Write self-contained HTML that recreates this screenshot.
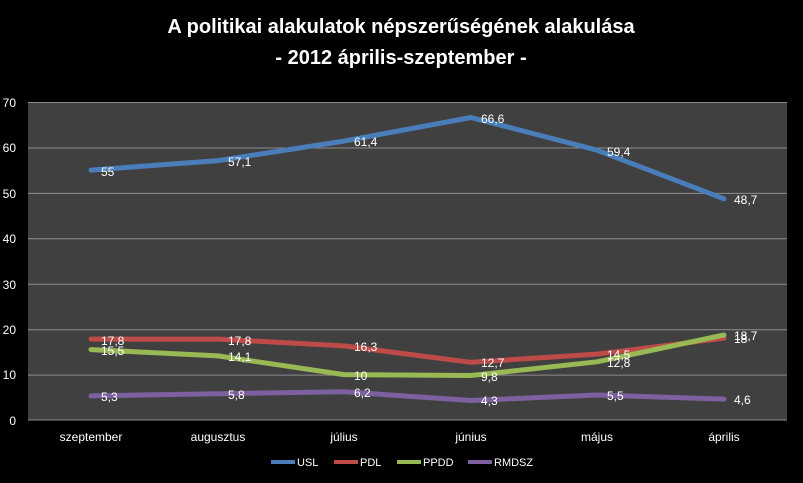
<!DOCTYPE html>
<html><head><meta charset="utf-8"><style>
html,body{margin:0;padding:0;background:#000;}
svg{display:block;font-family:"Liberation Sans","DejaVu Sans",sans-serif;}
</style></head><body>
<svg width="803" height="483" viewBox="0 0 803 483" xmlns="http://www.w3.org/2000/svg">
<rect width="803" height="483" fill="#000"/>
<text x="401" y="33" fill="#fff" font-size="20" font-weight="bold" text-anchor="middle">A politikai alakulatok népszerűségének alakulása</text>
<text x="401" y="64" fill="#fff" font-size="20" font-weight="bold" text-anchor="middle">- 2012 április-szeptember -</text>
<rect x="28" y="102" width="759" height="318" fill="#404040"/>
<g stroke="#8c8c8c" stroke-width="1">
<line x1="28" x2="787" y1="102.5" y2="102.5"/>
<line x1="28" x2="787" y1="148" y2="148"/>
<line x1="28" x2="787" y1="193.4" y2="193.4"/>
<line x1="28" x2="787" y1="238.8" y2="238.8"/>
<line x1="28" x2="787" y1="284.3" y2="284.3"/>
<line x1="28" x2="787" y1="329.7" y2="329.7"/>
<line x1="28" x2="787" y1="375.1" y2="375.1"/>
<line x1="28" x2="787" y1="420" y2="420"/>
</g>
<g fill="#fff" font-size="12" text-anchor="end">
<text x="16" y="107">70</text><text x="16" y="152">60</text><text x="16" y="198">50</text><text x="16" y="243">40</text>
<text x="16" y="289">30</text><text x="16" y="334">20</text><text x="16" y="379">10</text><text x="16" y="425">0</text>
</g>
<g fill="#fff" font-size="12" text-anchor="middle">
<text x="91" y="441">szeptember</text><text x="218" y="441">augusztus</text><text x="344" y="441">július</text>
<text x="471" y="441">június</text><text x="597" y="441">május</text><text x="724" y="441">április</text>
</g>
<g fill="none" stroke-width="5" stroke-linecap="round" stroke-linejoin="round">
<polyline stroke="#4a7ebb" points="91,170.1 218,160.6 344,141.1 471,117.5 597,150.2 724,198.8"/>
<polyline stroke="#be4b48" points="91,339.1 218,339.1 344,345.9 471,362.3 597,354.1 724,338.2"/>
<polyline stroke="#98b954" points="91,349.6 218,355.9 344,374.6 471,375.5 597,361.8 724,335"/>
<polyline stroke="#7d60a0" points="91,395.9 218,393.7 344,391.8 471,400.5 597,395 724,399.1"/>
</g>
<g fill="#fff" font-size="12">
<text x="101" y="176">55</text><text x="228" y="166">57,1</text><text x="354" y="146">61,4</text><text x="481" y="123">66,6</text><text x="607" y="156">59,4</text><text x="734" y="204">48,7</text>
<text x="101" y="345">17,8</text><text x="228" y="345">17,8</text><text x="354" y="351">16,3</text><text x="481" y="367">12,7</text><text x="607" y="359">14,5</text><text x="734" y="343">18</text>
<text x="101" y="355">15,5</text><text x="228" y="361">14,1</text><text x="354" y="380">10</text><text x="481" y="381">9,8</text><text x="607" y="367">12,8</text><text x="734" y="340">18,7</text>
<text x="101" y="401">5,3</text><text x="228" y="399">5,8</text><text x="354" y="397">6,2</text><text x="481" y="405">4,3</text><text x="607" y="400">5,5</text><text x="734" y="404">4,6</text>
</g>
<g font-size="11" fill="#fff">
<line x1="271" x2="295" y1="462" y2="462" stroke="#4a7ebb" stroke-width="4"/><text x="297" y="466">USL</text>
<line x1="334" x2="358" y1="462" y2="462" stroke="#be4b48" stroke-width="4"/><text x="360" y="466">PDL</text>
<line x1="397" x2="421" y1="462" y2="462" stroke="#98b954" stroke-width="4"/><text x="423" y="466">PPDD</text>
<line x1="468" x2="492" y1="462" y2="462" stroke="#7d60a0" stroke-width="4"/><text x="494" y="466">RMDSZ</text>
</g>
</svg>
</body></html>
